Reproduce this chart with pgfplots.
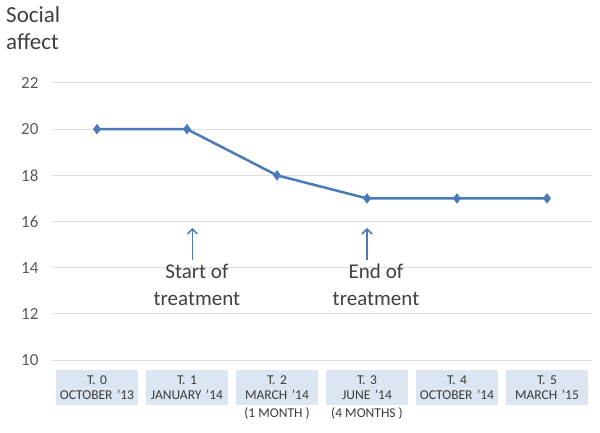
\documentclass[border=0pt]{standalone}
\usepackage{fontspec}
\setmainfont{Carlito}
\usepackage{pgfplots}
\pgfplotsset{compat=1.18}
\usetikzlibrary{arrows.meta}
\definecolor{linecol}{HTML}{4A7AB8}
\definecolor{boxcol}{HTML}{DCE6F2}
\definecolor{txtcol}{HTML}{404040}
\definecolor{tickcol}{HTML}{595959}
\begin{document}
\begin{tikzpicture}
\path[use as bounding box] (0,0) rectangle (600bp,433bp);
\node[anchor=base west, inner sep=0pt, text=txtcol, font=\fontsize{23bp}{27bp}\selectfont] at (6bp,410bp) {Social};
\node[anchor=base west, inner sep=0pt, text=txtcol, font=\fontsize{23bp}{27bp}\selectfont] at (6bp,383bp) {affect};
\begin{axis}[
  at={(52bp,73bp)}, anchor=south west,
  scale only axis, width=540bp, height=277bp,
  xmin=-0.5, xmax=5.5, ymin=10, ymax=22,
  ytick={10,12,...,22},
  xtick={0,...,5},
  xticklabels={{T. 0\\OCTOBER '13},{T. 1\\JANUARY '14},{T. 2\\MARCH '14},{T. 3\\JUNE '14},{T. 4\\OCTOBER '14},{T. 5\\MARCH '15}},
  axis line style={draw=none},
  major tick style={draw=none},
  ymajorgrids, grid style={gray!25, line width=1pt},
  /pgf/number format/assume math mode=true,
  yticklabel style={font=\fontsize{17bp}{19bp}\selectfont, text=tickcol, xshift=-10bp},
  xticklabel style={font=\fontsize{13.5bp}{15bp}\selectfont, text=txtcol!90!black, fill=boxcol,
    align=center, text width=80bp, minimum height=35bp, anchor=north, yshift=-10bp, inner sep=1bp},
  clip=false,
]
\addplot[linecol, line width=2.5pt, mark=diamond*, mark size=4.5pt, mark options={fill=linecol, line width=1pt}]
  coordinates {(0,20) (1,20) (2,18) (3,17) (4,17) (5,17)};
\draw[-{Straight Barb[length=5bp]}, linecol, line width=1.5pt] (axis cs:1.06,14.33) -- (axis cs:1.06,15.72);
\draw[-{Straight Barb[length=5bp]}, linecol, line width=1.5pt] (axis cs:3.0,14.33) -- (axis cs:3.0,15.72);
\node[align=center, text=txtcol, font=\fontsize{21bp}{27bp}\selectfont, anchor=north] at (axis cs:1.11,14.3) {Start of\\treatment};
\node[align=center, text=txtcol, font=\fontsize{21bp}{27bp}\selectfont, anchor=north] at (axis cs:3.1,14.3) {End of\\treatment};
\node[text=txtcol!90!black, font=\fontsize{13.5bp}{15bp}\selectfont] at ([yshift=-53bp]axis cs:2,10) {(1 MONTH )};
\node[text=txtcol!90!black, font=\fontsize{13.5bp}{15bp}\selectfont] at ([yshift=-53bp]axis cs:3,10) {(4 MONTHS )};
\end{axis}
\end{tikzpicture}
\end{document}
